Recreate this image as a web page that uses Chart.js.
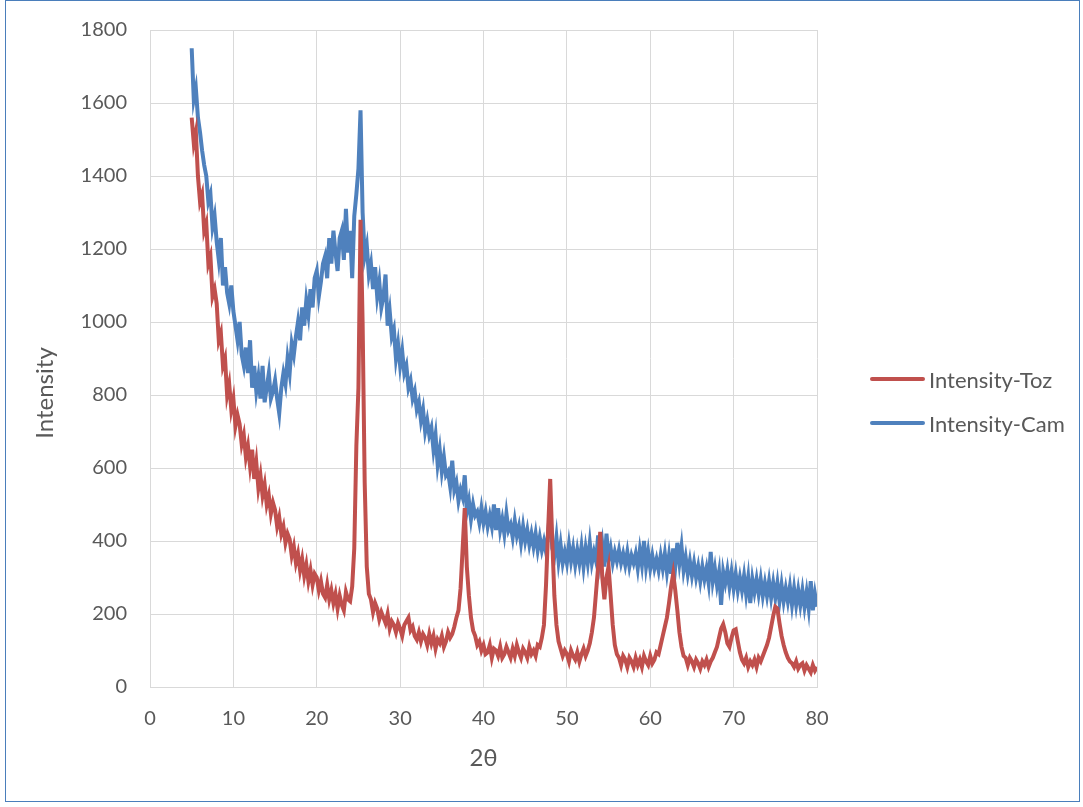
<!DOCTYPE html>
<html>
<head>
<meta charset="utf-8">
<script src="https://cdn.jsdelivr.net/npm/chart.js@4.4.1/dist/chart.umd.min.js"></script>
<style>
  html, body { margin: 0; padding: 0; background: #fff; }
  #wrap { position: relative; width: 1083px; height: 807px; }
  #frame { position: absolute; left: 5px; top: 0; width: 1075px; height: 802px; border: 1px solid #4a7ebb; box-sizing: border-box; pointer-events: none; }
  #legend { position: absolute; left: 870px; top: 357px; font-family: Lato, "Liberation Sans", sans-serif; font-size: 22px; color: #595959; }
  .item { display: flex; align-items: center; height: 44px; }
  .swatch { width: 55px; height: 4px; border-radius: 2px; margin-right: 4px; }
</style>
</head>
<body>
<div id="wrap">
  <canvas id="xrd" width="1083" height="807"></canvas>
  <div id="frame"></div>
  <div id="legend"></div>
</div>
<script>
// 2θ grid: 5° to 80° every 0.25°
const thetaStart = 5;
const thetaStep = 0.25;

const xTicks = [0, 10, 20, 30, 40, 50, 60, 70, 80];
const yTicks = [0, 200, 400, 600, 800, 1000, 1200, 1400, 1600, 1800];

const seriesNames = ['Intensity-Toz', 'Intensity-Cam'];
const seriesColors = ['#c0504d', '#4f81bd'];
const xTitle = '2θ';
const yTitle = 'Intensity';

// Intensity-Toz, one row per 5 degrees
const toz = [
  1560, 1490, 1520, 1400, 1330, 1350, 1250, 1270, 1160, 1180, 1070, 1090, 1050, 950, 970, 880, 900, 800, 830, 760,
  790, 715, 745, 720, 665, 690, 630, 660, 605, 650, 570, 615, 545, 580, 525, 555, 500, 525, 475, 505,
  485, 440, 465, 420, 440, 395, 420, 405, 360, 385, 340, 365, 320, 350, 305, 335, 290, 320, 280, 310,
  300, 265, 290, 255, 245, 280, 240, 265, 230, 255, 215, 250, 225, 210, 260, 240, 235, 275, 380, 660,
  820, 1280, 1000, 560, 330, 255, 240, 205, 230, 215, 185, 205, 190, 175, 200, 160, 180, 170, 150, 175,
  160, 140, 170, 180, 190, 155, 165, 140, 130, 150, 125, 145, 135, 115, 145, 120, 140, 105, 130, 120,
  140, 110, 125, 150, 135, 145, 165, 190, 210, 270, 380, 490, 330, 250, 190, 155, 140, 115, 125, 100,
  115, 90, 95, 115, 80, 105, 100, 85, 110, 80, 90, 110, 95, 80, 105, 85, 115, 95, 80, 105,
  95, 80, 110, 90, 100, 85, 115, 110, 135, 170, 280, 430, 570, 400, 250, 170, 125, 105, 85, 100,
  90, 70, 100, 85, 75, 95, 70, 90, 105, 85, 100, 120, 150, 190, 260, 330, 425, 300, 240, 300,
  330, 250, 170, 115, 90, 80, 60, 85, 75, 55, 80, 70, 55, 80, 60, 75, 55, 85, 70, 60,
  85, 65, 75, 95, 90, 115, 140, 165, 190, 230, 275, 310, 265, 210, 150, 110, 85, 80, 60, 80,
  70, 55, 75, 65, 50, 70, 60, 75, 55, 70, 80, 95, 110, 135, 160, 172, 150, 120, 110, 135,
  155, 158, 125, 95, 75, 65, 80, 55, 70, 60, 75, 55, 80, 70, 85, 100, 115, 135, 165, 195,
  220, 215, 175, 140, 115, 95, 80, 70, 65, 55, 70, 50, 60, 65, 45, 60, 50, 40, 60, 45,
  55
];

// Intensity-Cam, one row per 5 degrees
const cam = [
  1750, 1610, 1640, 1560, 1520, 1470, 1430, 1400, 1330, 1350, 1260, 1290, 1220, 1170, 1230, 1100, 1150, 1080, 1050, 1100,
  1030, 990, 950, 1000, 910, 880, 930, 860, 950, 820, 880, 810, 850, 790, 880, 780, 820, 860, 790, 810,
  840, 790, 750, 820, 860, 830, 900, 860, 940, 910, 960, 1000, 950, 1040, 990, 1060, 1020, 1090, 1040, 1120,
  1140, 1070, 1110, 1160, 1180, 1120, 1230, 1160, 1250, 1190, 1140, 1230, 1250, 1170, 1310, 1190, 1250, 1120, 1290, 1350,
  1420, 1580, 1300, 1180, 1210, 1130, 1160, 1090, 1150, 1070, 1110, 1040, 1070, 1130, 990, 1030, 960, 980, 900, 940,
  880, 920, 860, 880, 820, 840, 790, 810, 760, 780, 730, 760, 700, 730, 690, 710, 650, 690, 610, 650,
  590, 630, 580, 590, 550, 620, 540, 560, 510, 540, 520, 580, 480, 510, 460, 500, 470, 480, 450, 490,
  450, 480, 440, 470, 440, 500, 430, 490, 430, 460, 420, 475, 430, 445, 410, 455, 415, 440, 395, 440,
  400, 430, 390, 420, 385, 420, 375, 410, 375, 400, 370, 420, 490, 380, 360, 410, 345, 390, 340, 370,
  340, 390, 345, 380, 335, 375, 340, 385, 330, 380, 340, 395, 340, 370, 345, 415, 345, 390, 330, 420,
  350, 380, 340, 370, 345, 375, 340, 365, 335, 370, 330, 360, 340, 365, 325, 375, 335, 400, 330, 370,
  325, 360, 325, 350, 320, 360, 325, 365, 315, 360, 310, 380, 330, 395, 340, 385, 320, 355, 310, 345,
  305, 340, 300, 330, 290, 330, 295, 325, 285, 370, 290, 325, 280, 315, 225, 315, 285, 320, 275, 315,
  270, 310, 265, 300, 265, 305, 255, 300, 230, 295, 260, 295, 255, 295, 250, 285, 250, 290, 245, 285,
  245, 285, 235, 280, 235, 270, 235, 275, 225, 270, 225, 265, 225, 265, 220, 260, 215, 290, 210, 255,
  220
];

function toPoints(values) {
  return values.map((v, i) => ({ x: thetaStart + i * thetaStep, y: v }));
}

const textColor = '#595959';
const gridColor = '#d9d9d9';
const family = 'Lato, "Liberation Sans", sans-serif';
const tickFont = { family, size: 20 };

// y title sits a bit below the middle of the axis, like in the office chart
const yTitlePlugin = {
  id: 'yTitle',
  afterDraw(chart) {
    const ctx = chart.ctx;
    ctx.save();
    ctx.translate(45, 393);
    ctx.rotate(-Math.PI / 2);
    ctx.font = '24px ' + family;
    ctx.fillStyle = textColor;
    ctx.textAlign = 'center';
    ctx.textBaseline = 'middle';
    ctx.fillText(yTitle, 0, 0);
    ctx.restore();
  }
};

const chart = new Chart(document.getElementById('xrd').getContext('2d'), {
  type: 'line',
  data: {
    datasets: [toz, cam].map((vals, k) => ({
      label: seriesNames[k],
      data: toPoints(vals),
      borderColor: seriesColors[k],
      backgroundColor: seriesColors[k],
      borderWidth: 4,
      pointRadius: 0,
      tension: 0,
      fill: false
    }))
  },
  options: {
    responsive: false,
    animation: false,
    layout: { padding: { top: 30, right: 266, left: 0, bottom: 0 } },
    plugins: { legend: { display: false }, tooltip: { enabled: false } },
    scales: {
      x: {
        type: 'linear',
        min: 0,
        max: 80,
        afterBuildTicks: s => { s.ticks = xTicks.map(v => ({ value: v })); },
        afterFit: s => { s.height = 120; },
        grid: { color: gridColor, lineWidth: 1, drawTicks: false },
        border: { color: gridColor, width: 1 },
        ticks: { color: textColor, font: tickFont, padding: 20, maxRotation: 0, callback: v => String(v) },
        title: { display: true, text: xTitle, color: textColor, font: { family, size: 24, lineHeight: 1.2 }, padding: { top: 0, bottom: 34 } }
      },
      y: {
        min: 0,
        max: 1800,
        afterBuildTicks: s => { s.ticks = yTicks.map(v => ({ value: v })); },
        afterFit: s => { s.width = 150; s.paddingTop = 0; s.paddingBottom = 0; },
        grid: { color: gridColor, lineWidth: 1, drawTicks: false },
        border: { color: gridColor, width: 1 },
        ticks: { color: textColor, font: tickFont, padding: 23, callback: v => String(v) }
      }
    }
  },
  plugins: [yTitlePlugin]
});

// legend next to the plot
const legend = document.getElementById('legend');
chart.data.datasets.forEach(ds => {
  const row = document.createElement('div');
  row.className = 'item';
  const sw = document.createElement('span');
  sw.className = 'swatch';
  sw.style.background = ds.borderColor;
  const label = document.createElement('span');
  label.textContent = ds.label;
  row.appendChild(sw);
  row.appendChild(label);
  legend.appendChild(row);
});
</script>
</body>
</html>
